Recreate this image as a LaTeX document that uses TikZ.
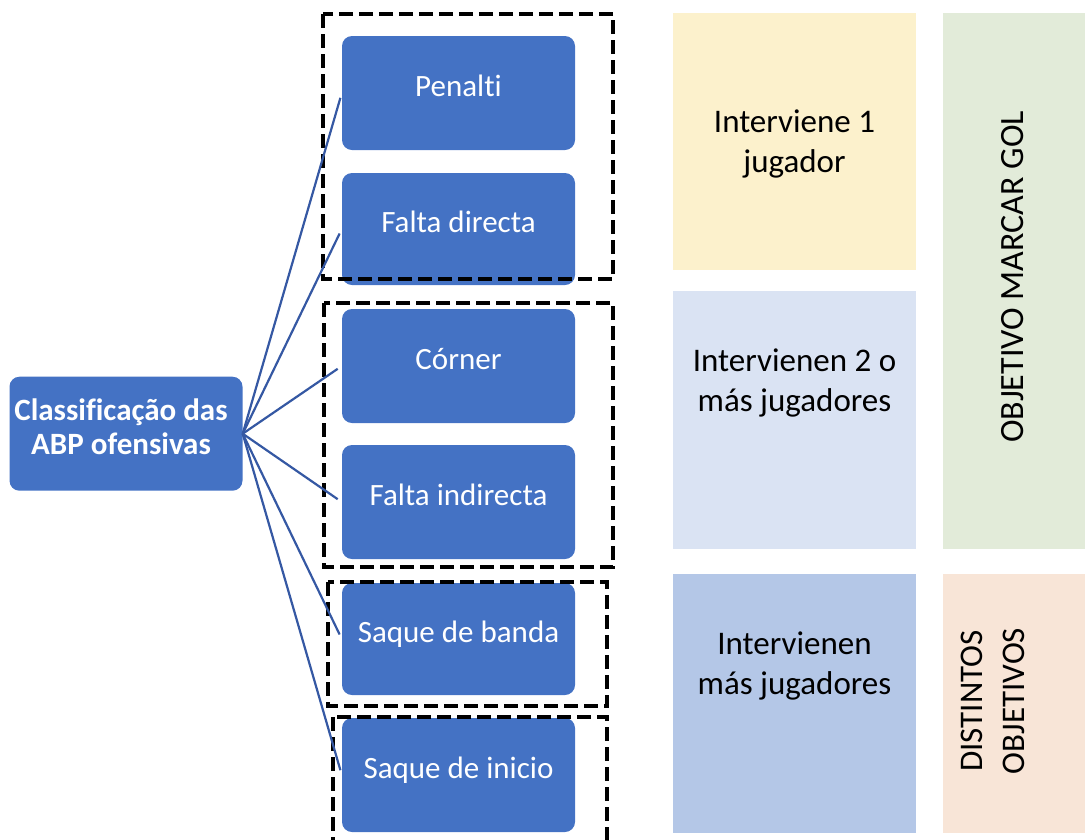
\documentclass[tikz,border=0pt]{standalone}
\usepackage{fontspec}
\setmainfont{Carlito}[Ligatures=NoCommon]
\definecolor{boxblue}{HTML}{4472C4}
\definecolor{linkblue}{HTML}{3558A3}
\definecolor{cyellow}{HTML}{FCF1CC}
\definecolor{clblue}{HTML}{DAE3F3}
\definecolor{cmblue}{HTML}{B4C7E7}
\definecolor{cgreen}{HTML}{E2EBD9}
\definecolor{cpeach}{HTML}{F8E5D7}
\begin{document}
\begin{tikzpicture}[x=1pt,y=-1pt,
  bbox/.style={fill=boxblue, rounded corners=10pt, minimum width=233pt, text=white,
    font=\fontsize{31}{37}\selectfont, text height=20pt, text depth=14pt, inner sep=0pt},
  conn/.style={draw=linkblue, line width=2.2pt, shorten >=5pt},
  dbox/.style={draw=black, line width=3.4pt, dash pattern=on 14pt off 6pt},
  panel/.style={inner sep=0pt, minimum width=#1},
  ptext/.style={font=\fontsize{33}{40}\selectfont, align=center, inner sep=0pt}
]
\useasboundingbox (0,0) rectangle (1085,839);

% right panels
\node[panel=243pt, fill=cyellow, minimum height=257pt] (p1) at (794.5,141.5) {};
\node[panel=243pt, fill=clblue, minimum height=258pt] (p2) at (794.5,420) {};
\node[panel=243pt, fill=cmblue, minimum height=259pt] (p3) at (794.5,703.5) {};
\node[panel=142pt, fill=cgreen, minimum height=536pt] (p4) at (1014,281) {};
\node[panel=142pt, fill=cpeach, minimum height=259pt] (p5) at (1014,703.5) {};

\node[ptext] (t1) at (794.5,143.5) {Interviene 1\\jugador};
\node[ptext] (t2) at (794.5,383) {Intervienen 2 o\\más jugadores};
\node[ptext] (t3) at (794.5,665.5) {Intervienen\\más jugadores};
\node[font=\fontsize{34}{36.5}\selectfont, rotate=90, inner sep=0pt, text height=21.9pt, text depth=0pt] (t4) at (1013,277) {OBJETIVO MARCAR GOL};
\node[font=\fontsize{33}{42}\selectfont, rotate=90, align=center, inner sep=0pt] (t5) at (992.7,701) {DISTINTOS\\OBJETIVOS};

% root
\node[fill=boxblue, rounded corners=10pt, minimum width=233pt, minimum height=114pt, inner sep=0pt] (root) at (126,433.7) {};
\node[font=\fontsize{31}{33.5}\selectfont\bfseries, text=white, align=center, inner sep=0pt] (roott) at (121,426.5) {Classificação das\\ABP ofensivas};

% blue boxes
\node[bbox, minimum height=114pt] (b1) at (458.5,93) {Penalti};
\node[bbox, minimum height=112pt] (b2) at (458.5,229) {Falta directa};
\node[bbox, minimum height=114pt] (b3) at (458.5,366) {Córner};
\node[bbox, minimum height=114pt] (b4) at (458.5,502) {Falta indirecta};
\node[bbox, minimum height=112pt] (b5) at (458.5,639) {Saque de banda};
\node[bbox, minimum height=114pt] (b6) at (458.5,775) {Saque de inicio};

% dashed groups
\draw[dbox] (323,14) rectangle (613,279);
\draw[dbox] (324,303) rectangle (613,567);
\draw[dbox] (328,582) rectangle (607,706);
\draw[dbox] (333,717) rectangle (607,852);

% connectors
\foreach \b in {b1,b2,b3,b4,b5,b6}
  \draw[conn] (root.east) -- (\b.west);
\end{tikzpicture}
\end{document}
